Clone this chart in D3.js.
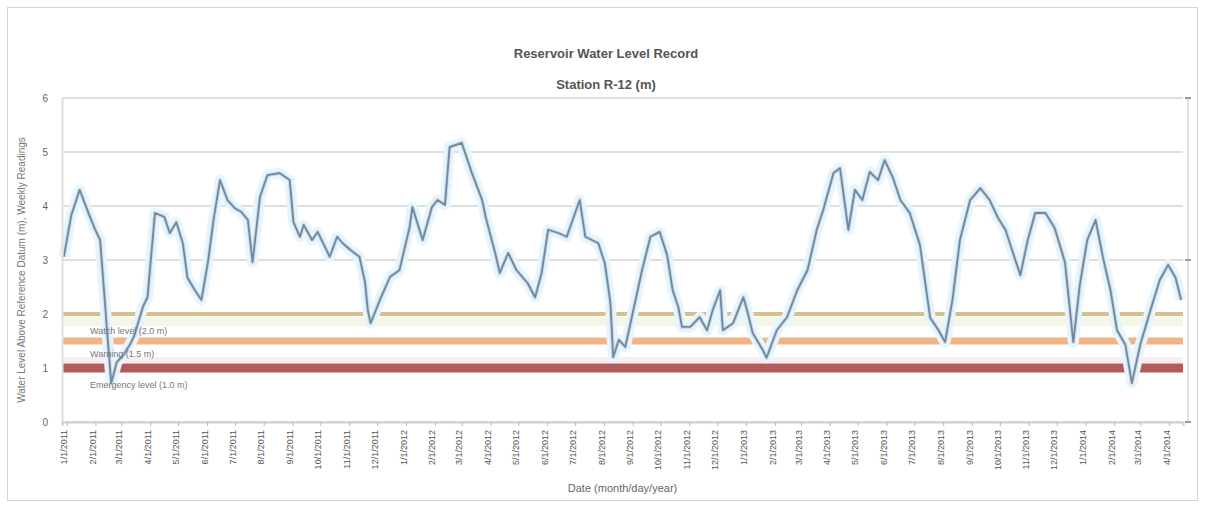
<!DOCTYPE html>
<html>
<head>
<meta charset="utf-8">
<script src="https://cdn.jsdelivr.net/npm/d3@7"></script>
<style>
  html, body { margin: 0; padding: 0; background: #fff; }
  svg { display: block; font-family: "Liberation Sans", Arial, sans-serif; }
</style>
</head>
<body>
<svg id="chart" width="1205" height="506"></svg>
<script>
// ---------- DATA ----------
const titleLines = ["Reservoir Water Level Record", "Station R-12 (m)"];
const yAxisTitle = "Water Level Above Reference Datum (m), Weekly Readings";
const xAxisTitle = "Date (month/day/year)";
const baseDate = "2011-01-01";
const xDomainDays = [-5, 1201];
const yTicks = [0, 1, 2, 3, 4, 5, 6];
const monthLabels = [
  "1/1/2011","2/1/2011","3/1/2011","4/1/2011","5/1/2011","6/1/2011","7/1/2011","8/1/2011","9/1/2011","10/1/2011","11/1/2011","12/1/2011",
  "1/1/2012","2/1/2012","3/1/2012","4/1/2012","5/1/2012","6/1/2012","7/1/2012","8/1/2012","9/1/2012","10/1/2012","11/1/2012","12/1/2012",
  "1/1/2013","2/1/2013","3/1/2013","4/1/2013","5/1/2013","6/1/2013","7/1/2013","8/1/2013","9/1/2013","10/1/2013","11/1/2013","12/1/2013",
  "1/1/2014","2/1/2014","3/1/2014","4/1/2014"
];
const dayOffsets = [
  -3,5,14,23,30,36,41,44,48,54,61,68,73,82,87,95,105,111,118,125,
  130,138,145,152,158,165,173,181,188,195,200,208,216,229,240,244,251,255,264,270,
  278,283,291,297,305,315,321,324,327,337,348,358,369,372,378,383,393,399,407,412,
  425,436,447,451,461,466,475,484,496,504,511,518,529,538,547,552,558,572,579,585,
  588,594,601,608,619,628,638,646,652,658,662,671,681,689,695,703,706,717,728,732,
  738,749,753,764,775,786,797,807,814,825,832,841,848,856,864,873,880,889,897,907,
  918,929,938,945,953,961,972,983,993,1002,1010,1017,1026,1034,1042,1053,1063,1074,1083,1090,
  1098,1107,1115,1123,1130,1139,1146,1155,1166,1176,1185,1193,1199
];
const levels = [
  3.06,3.83,4.30,3.89,3.59,3.37,2.26,1.57,0.72,1.11,1.24,1.43,1.61,2.13,2.31,3.87,3.80,3.50,3.70,3.31,
  2.67,2.44,2.26,2.96,3.74,4.48,4.11,3.96,3.89,3.74,2.96,4.17,4.57,4.61,4.48,3.70,3.43,3.65,3.37,3.52,
  3.24,3.06,3.43,3.31,3.19,3.06,2.59,2.07,1.83,2.26,2.69,2.81,3.61,3.98,3.65,3.37,3.98,4.11,4.02,5.09,
  5.17,4.61,4.11,3.78,3.13,2.76,3.13,2.81,2.57,2.31,2.76,3.56,3.50,3.43,3.87,4.11,3.43,3.31,2.94,2.20,
  1.20,1.52,1.39,1.94,2.81,3.43,3.52,3.09,2.44,2.13,1.76,1.76,1.94,1.70,2.07,2.44,1.70,1.83,2.31,2.07,
  1.65,1.33,1.19,1.70,1.94,2.44,2.81,3.56,3.93,4.61,4.70,3.56,4.30,4.11,4.63,4.48,4.85,4.52,4.11,3.87,
  3.28,1.93,1.70,1.48,2.26,3.37,4.11,4.33,4.11,3.78,3.56,3.19,2.72,3.37,3.87,3.87,3.59,2.96,1.48,2.54,
  3.37,3.74,3.04,2.44,1.70,1.43,0.72,1.43,2.07,2.63,2.91,2.67,2.26
];
const thresholdValues = [2.0, 1.5, 1.0];
const thresholdNames = ["Watch level (2.0 m)", "Warning (1.5 m)", "Emergency level (1.0 m)"];
const thresholdColors = ["#d6bf8e", "#f2b487", "#b35a5d"];

// ---------- CHART ----------
const svg = d3.select("#chart");
const W = 1205, H = 506;
const plot = { left: 62, right: 1183, top: 98, bottom: 422 };

const parse = d3.timeParse("%Y-%m-%d");
const parseLabel = d3.timeParse("%m/%d/%Y");
const base = parse(baseDate);
const x = d3.scaleTime()
  .domain(xDomainDays.map(d => d3.timeDay.offset(base, d)))
  .range([plot.left, plot.right]);
const y = d3.scaleLinear().domain([0, 6]).range([plot.bottom, plot.top]);

// outer chart frame
svg.append("rect").attr("x", 7.5).attr("y", 7.5).attr("width", W - 15).attr("height", H - 13)
  .attr("fill", "#fff").attr("stroke", "#d4d4d4").attr("stroke-width", 1);

// gridlines
svg.append("g").selectAll("line").data(yTicks).join("line")
  .attr("x1", plot.left).attr("x2", plot.right)
  .attr("y1", d => y(d)).attr("y2", d => y(d))
  .attr("stroke", "#dedede").attr("stroke-width", 2);

// right axis line with ticks
svg.append("line").attr("x1", plot.right + 5).attr("x2", plot.right + 5)
  .attr("y1", plot.top).attr("y2", plot.bottom).attr("stroke", "#e2e2e2").attr("stroke-width", 2);
svg.append("g").selectAll("line").data([0, 3, 6]).join("line")
  .attr("x1", plot.right + 2).attr("x2", plot.right + 8)
  .attr("y1", d => y(d)).attr("y2", d => y(d)).attr("stroke", "#9a9a9a").attr("stroke-width", 2);

// threshold lines
const thWidths = [4, 7, 9];
thresholdValues.forEach((v, i) => {
  if (i === 0) {
    svg.append("rect").attr("x", plot.left).attr("width", plot.right - plot.left)
      .attr("y", y(v) + 3).attr("height", 9).attr("fill", "#f4f7e6");
  }
  svg.append("line")
    .attr("x1", plot.left).attr("x2", plot.right)
    .attr("y1", y(v)).attr("y2", y(v))
    .attr("stroke", thresholdColors[i]).attr("stroke-width", thWidths[i]);
});
// pale band above red line
svg.append("rect").attr("x", plot.left).attr("width", plot.right - plot.left)
  .attr("y", y(1.0) - 11).attr("height", 6).attr("fill", "#fbecf0");

// data line (glow + stroke)
const pts = dayOffsets.map((d, i) => ({ date: d3.timeDay.offset(base, d), v: levels[i] }));
const line = d3.line().x(d => x(d.date)).y(d => y(d.v));
svg.append("path").datum(pts).attr("d", line)
  .attr("fill", "none").attr("stroke", "#e8f5fc").attr("stroke-width", 11)
  .attr("stroke-linejoin", "round");
svg.append("path").datum(pts).attr("d", line)
  .attr("fill", "none").attr("stroke", "#cadceb").attr("stroke-width", 4)
  .attr("stroke-linejoin", "round");
svg.append("path").datum(pts).attr("d", line)
  .attr("fill", "none").attr("stroke", "#71879a").attr("stroke-width", 1.8)
  .attr("stroke-linejoin", "round");

// threshold labels
thresholdValues.forEach((v, i) => {
  svg.append("text").attr("x", 90).attr("y", y(v) + (i === 1 ? 16 : 20))
    .attr("font-size", 9).attr("fill", "#777").text(thresholdNames[i]);
});

// y axis
const yAxis = d3.axisLeft(y).tickValues(yTicks).tickSize(0).tickPadding(14).tickFormat(d3.format("d"));
const gy = svg.append("g").attr("transform", `translate(${plot.left},0)`).call(yAxis);
gy.select(".domain").attr("stroke", "#e0e0e0").attr("stroke-width", 2);
gy.selectAll("text").attr("font-size", 10).attr("fill", "#666");

// x axis
const xAxis = d3.axisBottom(x).tickValues(monthLabels.map(s => parseLabel(s)))
  .tickSize(4).tickFormat((d, i) => monthLabels[i]);
const gx = svg.append("g").attr("transform", `translate(0,${plot.bottom})`).call(xAxis);
gx.select(".domain").attr("stroke", "#d0d0d0").attr("stroke-width", 2);
gx.selectAll(".tick line").attr("stroke", "#bbb");
gx.selectAll("text").attr("font-size", 9).attr("fill", "#555")
  .attr("transform", "rotate(-90)").attr("text-anchor", "end")
  .attr("x", -8).attr("y", -3).attr("dy", "0.35em");

// titles
svg.append("text").attr("x", 606).attr("y", 58).attr("text-anchor", "middle")
  .attr("font-size", 13).attr("font-weight", "bold").attr("fill", "#555").text(titleLines[0]);
svg.append("text").attr("x", 606).attr("y", 89).attr("text-anchor", "middle")
  .attr("font-size", 13).attr("font-weight", "bold").attr("fill", "#555").text(titleLines[1]);
svg.append("text").attr("x", (plot.left + plot.right) / 2).attr("y", 492).attr("text-anchor", "middle")
  .attr("font-size", 11).attr("fill", "#666").text(xAxisTitle);
svg.append("text").attr("transform", `translate(25,${(plot.top + plot.bottom) / 2 + 10}) rotate(-90)`)
  .attr("text-anchor", "middle").attr("font-size", 10).attr("fill", "#777").text(yAxisTitle);
</script>
</body>
</html>
